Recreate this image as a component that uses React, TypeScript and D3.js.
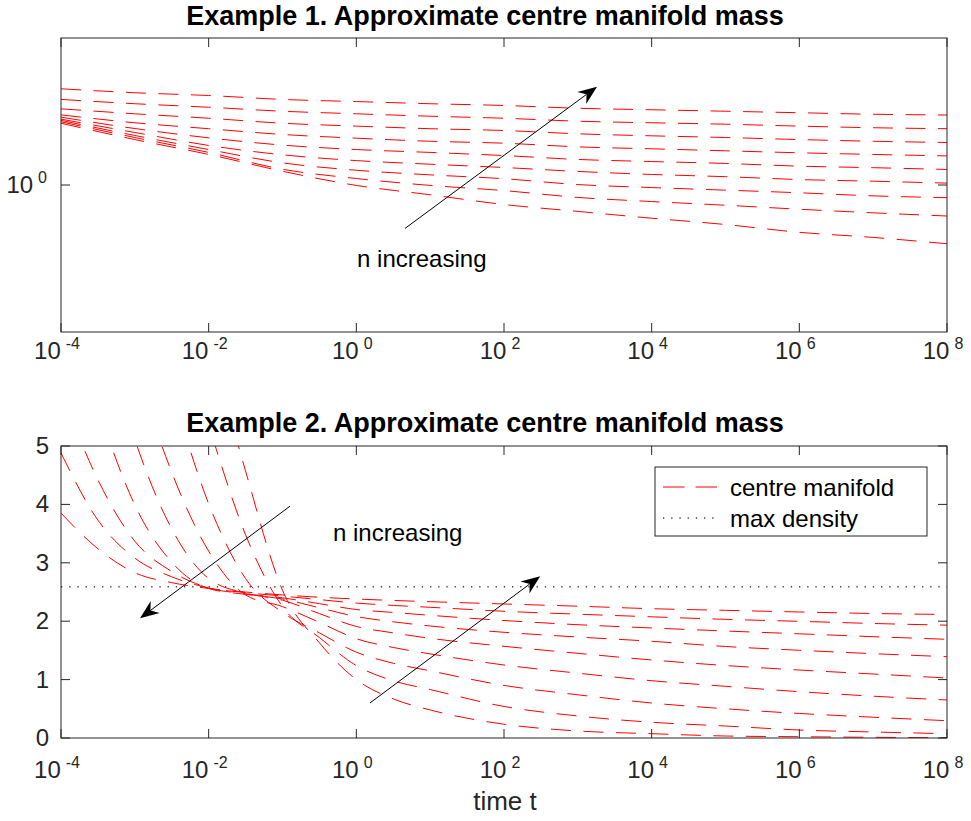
import React from 'react';
import * as d3 from 'd3';

// ---------- data ----------
const topExponents = [-4, -3, -2, -1, 0, 1, 2, 3, 4, 5, 6, 7, 8];
const topN1 = [1.338, 1.239, 1.155, 1.067, 0.998, 0.955, 0.912, 0.883, 0.855, 0.83, 0.8, 0.781, 0.758];
const topN2 = [1.347, 1.251, 1.166, 1.077, 1.031, 0.998, 0.974, 0.943, 0.925, 0.909, 0.892, 0.877, 0.864];
const topN3 = [1.356, 1.263, 1.182, 1.11, 1.072, 1.049, 1.03, 1.002, 0.988, 0.976, 0.964, 0.95, 0.942];
const topN4 = [1.364, 1.281, 1.205, 1.153, 1.122, 1.103, 1.086, 1.066, 1.051, 1.04, 1.026, 1.018, 1.009];
const topN5 = [1.377, 1.305, 1.249, 1.207, 1.182, 1.166, 1.149, 1.128, 1.117, 1.107, 1.093, 1.085, 1.076];
const topN6 = [1.392, 1.341, 1.304, 1.269, 1.247, 1.229, 1.218, 1.197, 1.186, 1.175, 1.164, 1.155, 1.147];
const topN7 = [1.432, 1.399, 1.37, 1.338, 1.32, 1.304, 1.293, 1.273, 1.261, 1.251, 1.239, 1.229, 1.222];
const topN8 = [1.497, 1.467, 1.443, 1.416, 1.399, 1.383, 1.37, 1.351, 1.341, 1.332, 1.32, 1.31, 1.304];
const topN9 = [1.574, 1.545, 1.525, 1.497, 1.482, 1.467, 1.455, 1.436, 1.426, 1.416, 1.406, 1.396, 1.391];
const topSeries = [topN1, topN2, topN3, topN4, topN5, topN6, topN7, topN8, topN9];

const bottomExponents = [-4, -3.5, -3, -2.5, -2, -1.5, -1, -0.5, 0, 0.5, 1, 2, 3, 4, 5, 6, 7, 8];
const botN1 = [20, 16, 12.5, 9.5, 6.9, 4.57, 2.53, 1.63, 1.0, 0.67, 0.48, 0.236, 0.12, 0.074, 0.034, 0.022, 0.012, 0.005];
const botN2 = [16, 13, 10, 7.5, 5.36, 3.48, 2.25, 1.72, 1.24, 0.98, 0.83, 0.54, 0.377, 0.269, 0.205, 0.137, 0.103, 0.074];
const botN3 = [13.5, 10.5, 8, 5.94, 4.01, 2.73, 2.15, 1.8, 1.47, 1.28, 1.15, 0.9, 0.74, 0.599, 0.5, 0.42, 0.356, 0.296];
const botN4 = [12, 9, 6.45, 4.55, 3.2, 2.45, 2.25, 1.98, 1.7, 1.55, 1.44, 1.25, 1.11, 0.981, 0.885, 0.793, 0.716, 0.651];
const botN5 = [10.4, 7.3, 5.11, 3.58, 2.73, 2.48, 2.36, 2.13, 1.91, 1.8, 1.707, 1.57, 1.45, 1.336, 1.241, 1.164, 1.096, 1.027];
const botN6 = [8.1, 5.7, 3.99, 3.01, 2.56, 2.46, 2.38, 2.23, 2.08, 1.99, 1.918, 1.81, 1.729, 1.656, 1.567, 1.502, 1.444, 1.392];
const botN7 = [5.95, 4.42, 3.37, 2.85, 2.57, 2.47, 2.4, 2.3, 2.2, 2.15, 2.101, 2.012, 1.94, 1.884, 1.832, 1.784, 1.735, 1.69];
const botN8 = [4.88, 3.73, 3.08, 2.76, 2.57, 2.49, 2.43, 2.37, 2.31, 2.27, 2.238, 2.17, 2.12, 2.075, 2.032, 1.998, 1.961, 1.932];
const botN9 = [3.85, 3.24, 2.83, 2.66, 2.56, 2.5, 2.45, 2.41, 2.38, 2.355, 2.334, 2.295, 2.257, 2.214, 2.186, 2.158, 2.132, 2.115];
const bottomSeries = [botN1, botN2, botN3, botN4, botN5, botN6, botN7, botN8, botN9];

const maxDensity = 2.59;
const xTickExponents = [-4, -2, 0, 2, 4, 6, 8];
const topYTickExponents = [0];
const bottomYTicks = [0, 1, 2, 3, 4, 5];
const titles = ['Example 1. Approximate centre manifold mass', 'Example 2. Approximate centre manifold mass'];
const legendLabels = ['centre manifold', 'max density'];
const annotationText = 'n increasing';
const xLabel = 'time t';

// annotation arrows in data units: [tStart, vStart, tEnd, vEnd]
const topArrow = [10 ** 0.66, 0.815, 10 ** 3.26, 1.59];
const botArrowLeft = [10 ** -0.898, 3.97, 10 ** -2.93, 2.05];
const botArrowRight = [10 ** 0.185, 0.6, 10 ** 2.49, 2.77];
const topTextPos = [10 ** 0.01, 0.678];
const botTextPos = [10 ** -0.316, 3.37];

const FONT = '"Liberation Sans", Arial, Helvetica, sans-serif';
const AX = '#262626';

function Arrow({ x1, y1, x2, y2 }: { x1: number; y1: number; x2: number; y2: number }) {
  const dx = x2 - x1, dy = y2 - y1;
  const len = Math.hypot(dx, dy);
  const ux = dx / len, uy = dy / len;
  const px = -uy, py = ux;
  const Lh = 19, Wh = 7.5, Nh = 13;
  const bx = x2 - ux * Lh, by = y2 - uy * Lh;
  const nx = x2 - ux * Nh, ny = y2 - uy * Nh;
  const pts = [
    [x2, y2],
    [bx + px * Wh, by + py * Wh],
    [nx, ny],
    [bx - px * Wh, by - py * Wh],
  ];
  return (
    <g>
      <line x1={x1} y1={y1} x2={nx} y2={ny} stroke="#000" strokeWidth={1} />
      <polygon points={pts.map((p) => p.join(',')).join(' ')} fill="#000" />
    </g>
  );
}

function TickLabel10({ x, y, exp, anchor }: { x: number; y: number; exp: number; anchor: string }) {
  return (
    <text x={x} y={y} textAnchor={anchor} fontFamily={FONT} fontSize={24} fill={AX}>
      <tspan>10</tspan>
      <tspan dx={5} dy={-10} fontSize={16}>{String(exp)}</tspan>
    </text>
  );
}

export default function App() {
  const L = 61, R = 947;
  const T1 = 38, B1 = 332;
  const T2 = 446, B2 = 738;
  const x = d3.scaleLog().domain([1e-4, 1e8]).range([L, R]);
  const yTop = d3.scaleLog().domain([0.5, 2]).range([B1, T1]);
  const yBot = d3.scaleLinear().domain([0, 5]).range([B2, T2]);

  const lineTop = d3
    .line<[number, number]>()
    .x((d) => x(10 ** d[0]))
    .y((d) => yTop(d[1]))
    .curve(d3.curveMonotoneX);
  const lineBot = d3
    .line<[number, number]>()
    .x((d) => x(10 ** d[0]))
    .y((d) => yBot(d[1]))
    .curve(d3.curveMonotoneX);

  const dash = '20,12.5';
  const tickLen = 9;

  const frame = (T: number, B: number) => (
    <rect x={L} y={T} width={R - L} height={B - T} fill="none" stroke={AX} strokeWidth={1} />
  );

  const xTicks = (T: number, B: number) =>
    xTickExponents.map((e) => {
      const xx = x(10 ** e);
      return (
        <g key={'xt' + e + T}>
          <line x1={xx} x2={xx} y1={B} y2={B - tickLen} stroke={AX} strokeWidth={1} />
          <line x1={xx} x2={xx} y1={T} y2={T + tickLen} stroke={AX} strokeWidth={1} />
        </g>
      );
    });

  const dens = yBot(maxDensity);

  return (
    <svg width={971} height={821} style={{ display: 'block', position: 'absolute', left: 0, top: 0, background: '#fff' }}>
      <defs>
        <clipPath id="clipTop">
          <rect x={L} y={T1} width={R - L} height={B1 - T1} />
        </clipPath>
        <clipPath id="clipBot">
          <rect x={L} y={T2} width={R - L} height={B2 - T2} />
        </clipPath>
      </defs>
      <rect x={0} y={0} width={971} height={821} fill="#fff" />

      {/* ---------- top panel ---------- */}
      <text x={485} y={25} textAnchor="middle" fontFamily={FONT} fontWeight="bold" fontSize={27} fill="#000">
        {titles[0]}
      </text>
      <g clipPath="url(#clipTop)">
        {topSeries.map((s, i) => (
          <path
            key={'t' + i}
            d={lineTop(topExponents.map((e, j) => [e, s[j]] as [number, number])) || ''}
            fill="none"
            stroke="#ff0000"
            strokeWidth={1}
            strokeDasharray={dash}
          />
        ))}
      </g>
      {frame(T1, B1)}
      {xTicks(T1, B1)}
      {topYTickExponents.map((e) => {
        const yy = yTop(10 ** e);
        return (
          <g key={'yt' + e}>
            <line x1={L} x2={L + tickLen} y1={yy} y2={yy} stroke={AX} />
            <line x1={R} x2={R - tickLen} y1={yy} y2={yy} stroke={AX} />
            <TickLabel10 x={L - 14} y={yy + 8} exp={e} anchor="end" />
          </g>
        );
      })}
      {xTickExponents.map((e) => (
        <TickLabel10 key={'xl1' + e} x={x(10 ** e) - 4} y={B1 + 27} exp={e} anchor="middle" />
      ))}
      <Arrow x1={x(topArrow[0])} y1={yTop(topArrow[1])} x2={x(topArrow[2])} y2={yTop(topArrow[3])} />
      <text x={x(topTextPos[0])} y={yTop(topTextPos[1])} fontFamily={FONT} fontSize={24} fill="#000">
        {annotationText}
      </text>

      {/* ---------- bottom panel ---------- */}
      <text x={485} y={432} textAnchor="middle" fontFamily={FONT} fontWeight="bold" fontSize={27} fill="#000">
        {titles[1]}
      </text>
      <g clipPath="url(#clipBot)">
        {bottomSeries.map((s, i) => (
          <path
            key={'b' + i}
            d={lineBot(bottomExponents.map((e, j) => [e, s[j]] as [number, number])) || ''}
            fill="none"
            stroke="#ff0000"
            strokeWidth={1}
            strokeDasharray={dash}
          />
        ))}
        <line x1={L} x2={R} y1={dens} y2={dens} stroke="#404040" strokeWidth={1.3} strokeDasharray="1.3,6.9" />
      </g>
      {frame(T2, B2)}
      {xTicks(T2, B2)}
      {bottomYTicks.map((v) => {
        const yy = yBot(v);
        return (
          <g key={'yb' + v}>
            <line x1={L} x2={L + tickLen} y1={yy} y2={yy} stroke={AX} />
            <line x1={R} x2={R - tickLen} y1={yy} y2={yy} stroke={AX} />
            <text x={L - 12} y={yy + 8} textAnchor="end" fontFamily={FONT} fontSize={24} fill={AX}>
              {String(v)}
            </text>
          </g>
        );
      })}
      {xTickExponents.map((e) => (
        <TickLabel10 key={'xl2' + e} x={x(10 ** e) - 4} y={B2 + 40} exp={e} anchor="middle" />
      ))}
      <text x={505} y={810} textAnchor="middle" fontFamily={FONT} fontSize={26} fill={AX}>
        {xLabel}
      </text>
      <Arrow x1={x(botArrowLeft[0])} y1={yBot(botArrowLeft[1])} x2={x(botArrowLeft[2])} y2={yBot(botArrowLeft[3])} />
      <Arrow x1={x(botArrowRight[0])} y1={yBot(botArrowRight[1])} x2={x(botArrowRight[2])} y2={yBot(botArrowRight[3])} />
      <text x={x(botTextPos[0])} y={yBot(botTextPos[1])} fontFamily={FONT} fontSize={24} fill="#000">
        {annotationText}
      </text>

      {/* legend */}
      <g>
        <rect x={655} y={467} width={272} height={69} fill="#fff" stroke={AX} strokeWidth={1} />
        <line x1={663} x2={717} y1={487} y2={487} stroke="#ff0000" strokeWidth={1} strokeDasharray="21.5,11" />
        <line x1={663} x2={717} y1={518} y2={518} stroke="#404040" strokeWidth={1.3} strokeDasharray="1.3,6.9" />
        <text x={730} y={496} fontFamily={FONT} fontSize={24} fill="#000">
          {legendLabels[0]}
        </text>
        <text x={730} y={527} fontFamily={FONT} fontSize={24} fill="#000">
          {legendLabels[1]}
        </text>
      </g>
    </svg>
  );
}
